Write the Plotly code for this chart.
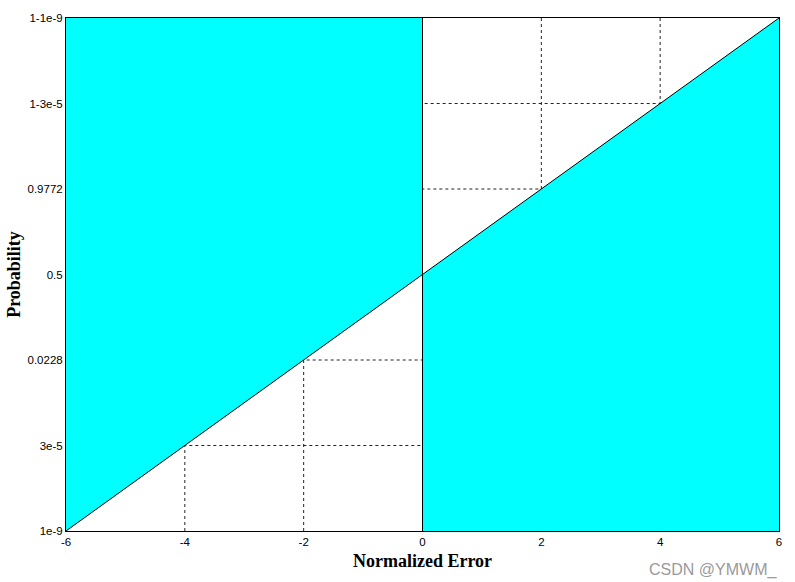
import plotly.graph_objects as go

# normalized error values (x) and their probability tick labels (y)
err_ticks = [-6, -4, -2, 0, 2, 4, 6]
prob_labels = ["1e-9", "3e-5", "0.0228", "0.5", "0.9772", "1-3e-5", "1-1e-9"]
guide_x = [-4, -2, 2, 4]

x_min, x_max = err_ticks[0], err_ticks[-1]
cyan = "#00FFFF"

fig = go.Figure()

# shaded regions: left of zero above the line, right of zero below it
fig.add_trace(go.Scatter(
    x=[x_min, 0, 0, x_min], y=[x_min, 0, x_max, x_max],
    fill="toself", fillcolor=cyan, line=dict(width=0), mode="lines",
    hoverinfo="skip",
))
fig.add_trace(go.Scatter(
    x=[0, x_max, x_max, 0], y=[x_min, x_min, x_max, 0],
    fill="toself", fillcolor=cyan, line=dict(width=0), mode="lines",
    hoverinfo="skip",
))

# dashed guide lines
for g in guide_x:
    ys = [x_min, g, g] if g < 0 else [x_max, g, g]
    fig.add_trace(go.Scatter(
        x=[g, g, 0], y=ys, mode="lines",
        line=dict(color="#222222", width=1, dash="3px,3px"),
        hoverinfo="skip",
    ))

# the normal probability line and the zero line
fig.add_trace(go.Scatter(
    x=[x_min, x_max], y=[x_min, x_max], mode="lines",
    line=dict(color="black", width=1),
))
fig.add_trace(go.Scatter(
    x=[0, 0], y=[x_min, x_max], mode="lines",
    line=dict(color="black", width=1),
))

fig.update_layout(
    width=795, height=582,
    margin=dict(l=66, r=16, t=18, b=51),
    showlegend=False,
    plot_bgcolor="white", paper_bgcolor="white",
    font=dict(family="Arial, Liberation Sans", size=11.5, color="black"),
)
fig.update_xaxes(
    range=[x_min, x_max], tickvals=err_ticks,
    ticktext=[str(v) for v in err_ticks],
    showgrid=False, zeroline=False, ticks="", automargin=False,
    showline=True, linecolor="black", linewidth=1, mirror=True,
    title=dict(text="<b>Normalized Error</b>", standoff=7,
               font=dict(family="Liberation Serif, Times New Roman", size=18)),
)
fig.update_yaxes(
    range=[x_min, x_max], tickvals=err_ticks, ticktext=prob_labels,
    showgrid=False, zeroline=False, ticks="", automargin=False,
    showline=True, linecolor="black", linewidth=1, mirror=True,
    title=dict(text="<b>Probability</b>", standoff=2,
               font=dict(family="Liberation Serif, Times New Roman", size=18)),
)

fig.add_annotation(
    text="CSDN @YMWM_", xref="paper", yref="paper", x=1.0, y=-0.055,
    xanchor="right", yanchor="top", showarrow=False,
    font=dict(family="Arial, Liberation Sans", size=16, color="#9a9a9a"),
)

fig.write_html("out.html", config={"displayModeBar": False},
               post_script="document.body.style.margin='0';")
